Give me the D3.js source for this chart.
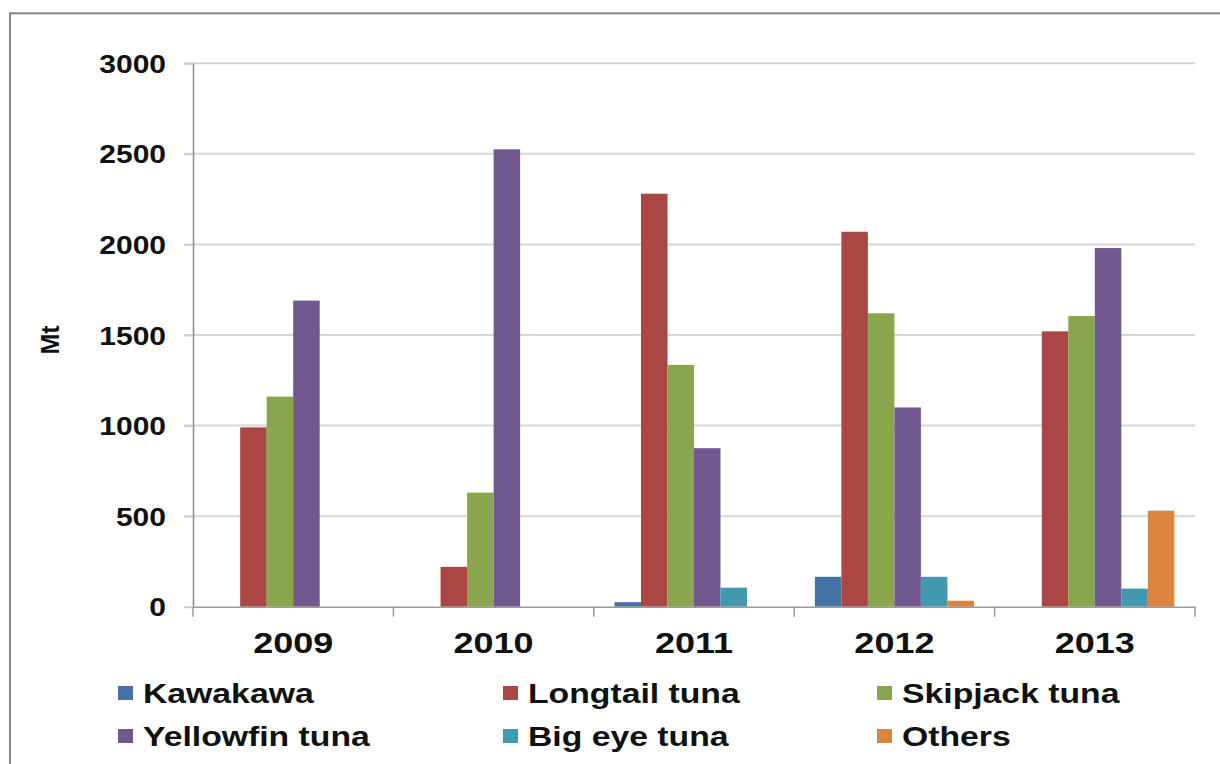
<!DOCTYPE html>
<html>
<head>
<meta charset="utf-8">
<script src="https://cdn.jsdelivr.net/npm/d3@7"></script>
<style>
  html, body { margin: 0; padding: 0; background: #ffffff; }
  svg { display: block; }
  text { font-family: "Liberation Sans", Arial, Helvetica, sans-serif; font-weight: bold; fill: #111; }
</style>
</head>
<body>
<svg id="chart" width="1220" height="764"></svg>
<script>
// Annual tuna catch by species (Mt)
const years = ["2009", "2010", "2011", "2012", "2013"];
const seriesNames = ["Kawakawa", "Longtail tuna", "Skipjack tuna", "Yellowfin tuna", "Big eye tuna", "Others"];
const kawakawa  = [0, 0, 25, 165, 0];
const longtail  = [990, 220, 2280, 2070, 1520];
const skipjack  = [1160, 630, 1335, 1620, 1605];
const yellowfin = [1690, 2525, 875, 1100, 1980];
const bigeye    = [0, 0, 105, 165, 100];
const others    = [0, 0, 0, 33, 530];
const yTicks = [0, 500, 1000, 1500, 2000, 2500, 3000];
const yTitle = "Mt";

const seriesValues = [kawakawa, longtail, skipjack, yellowfin, bigeye, others];
const colors = ["#4572A7", "#AA4643", "#89A54E", "#71588F", "#4198AF", "#DB843D"];

const svg = d3.select("#chart");
const W = 1220, H = 764;
const margin = { left: 193, top: 63.3, right: 25, bottom: 157.3 };
const innerW = W - margin.left - margin.right;
const innerH = H - margin.top - margin.bottom;
const stretch = 1.2;
const legendStretch = 1.25;

// outer chart frame
svg.append("rect")
  .attr("x", 10).attr("y", 13.3)
  .attr("width", 1240).attr("height", 800)
  .attr("fill", "none").attr("stroke", "#858585").attr("stroke-width", 2);

const g = svg.append("g").attr("transform", `translate(${margin.left},${margin.top})`);

const y = d3.scaleLinear().domain([0, 3000]).range([innerH, 0]);
const x0 = d3.scaleBand().domain(years).range([0, innerW]).paddingInner(0).paddingOuter(0);
const x1 = d3.scaleBand().domain(seriesNames).range([0, x0.bandwidth()]).paddingInner(0).paddingOuter(0.78);

// horizontal gridlines (extend a little left of the axis as tick marks)
g.append("g").selectAll("line")
  .data(yTicks.filter(d => d !== 0))
  .join("line")
  .attr("x1", -9).attr("x2", innerW)
  .attr("y1", d => y(d)).attr("y2", d => y(d))
  .attr("stroke", "#d6d6d6").attr("stroke-width", 2);

// y axis
const yAxis = g.append("g")
  .call(d3.axisLeft(y).tickValues(yTicks).tickSize(9).tickSizeOuter(0).tickFormat(d3.format("d")));
yAxis.select(".domain").attr("stroke", "#8c8c8c").attr("stroke-width", 1.5);
yAxis.selectAll(".tick line").attr("stroke", "#cfcfcf").attr("stroke-width", 2);
yAxis.selectAll(".tick text")
  .attr("x", null).attr("dy", "0.36em")
  .attr("transform", `translate(-27,0) scale(${stretch},1)`)
  .style("font-size", "25px").attr("fill", "#111");

// bars
const groups = g.append("g").selectAll("g")
  .data(years)
  .join("g")
  .attr("transform", d => `translate(${x0(d)},0)`);

groups.selectAll("rect")
  .data((yr, i) => seriesNames.map((s, k) => ({ s, k, v: seriesValues[k][i] })))
  .join("rect")
  .filter(d => d.v > 0)
  .attr("x", d => x1(d.s))
  .attr("width", x1.bandwidth())
  .attr("y", d => y(d.v))
  .attr("height", d => innerH - y(d.v))
  .attr("fill", d => colors[d.k]);

// x axis baseline and category separators
const xAxis = g.append("g")
  .attr("transform", `translate(0,${innerH})`)
  .call(d3.axisBottom(x0).tickSize(0).tickSizeOuter(0));
xAxis.select(".domain").attr("stroke", "#9a9a9a").attr("stroke-width", 1.5);
xAxis.selectAll(".tick text")
  .attr("y", null).attr("dy", null)
  .attr("transform", `translate(0,46) scale(${stretch},1)`)
  .style("font-size", "30px").attr("fill", "#111");

const bounds = years.map(d => x0(d)).concat([x0.range()[1]]);
g.append("g").selectAll("line")
  .data(bounds)
  .join("line")
  .attr("x1", d => d).attr("x2", d => d)
  .attr("y1", innerH).attr("y2", innerH + 10)
  .attr("stroke", "#9a9a9a").attr("stroke-width", 1.5);

// y axis title
svg.append("text")
  .attr("transform", "translate(59,340) rotate(-90)")
  .attr("text-anchor", "middle")
  .style("font-size", "25px")
  .text(yTitle);

// legend: two rows of three
const legendCols = [118, 503, 877];
const legendRows = [693, 736];
const legend = svg.append("g").selectAll("g")
  .data(seriesNames)
  .join("g")
  .attr("transform", (d, i) => `translate(${legendCols[i % 3]},${legendRows[Math.floor(i / 3)]})`);
legend.append("rect")
  .attr("x", 0).attr("y", -7).attr("width", 15).attr("height", 14)
  .attr("fill", (d, i) => colors[i]);
legend.append("text")
  .attr("transform", `translate(25,10) scale(${legendStretch},1)`)
  .style("font-size", "27px")
  .text(d => d);
</script>
</body>
</html>
